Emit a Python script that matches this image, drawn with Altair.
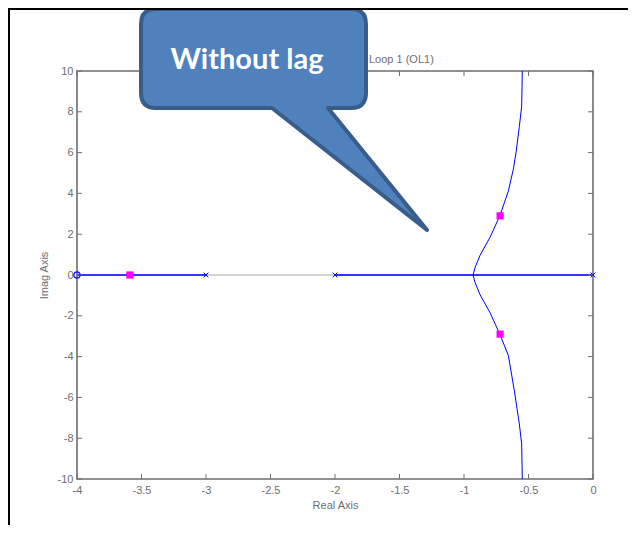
import altair as alt
import pandas as pd

# ---------------- data ----------------
upper_re = [-0.93, -0.915, -0.876, -0.798, -0.721, -0.657, -0.618, -0.597, -0.571, -0.553, -0.548]
upper_im = [0.0, 0.35, 0.96, 1.85, 2.92, 4.10, 5.17, 5.98, 7.28, 8.26, 10.0]
lower_re = [-0.93, -0.915, -0.876, -0.798, -0.721, -0.656, -0.610, -0.571, -0.553, -0.548]
lower_im = [0.0, -0.35, -0.96, -1.85, -2.92, -3.95, -5.66, -7.30, -8.28, -10.0]
seg_start = [-4.0, -2.0]
seg_end = [-3.0, 0.0]
poles = [0.0, -2.0, -3.0]
zeros = [-4.0]
cl_re = [-3.59, -0.72, -0.72]
cl_im = [0.0, 2.9, -2.9]
x_ticks = [-4, -3.5, -3, -2.5, -2, -1.5, -1, -0.5, 0]
y_ticks = [-10, -8, -6, -4, -2, 0, 2, 4, 6, 8, 10]
title_text = "Loop 1 (OL1)"
callout_text = "Without lag"

W, H = 516, 408
PL, PT, PR, PB = 69, 63, 35, 46
GRAY = "#6e6e6e"
FONT = "Liberation Sans"

# ---------------- tables ----------------
branch = pd.DataFrame(
    {"re": upper_re + lower_re,
     "im": upper_im + lower_im,
     "b": ["up"] * len(upper_re) + ["lo"] * len(lower_re),
     "o": list(range(len(upper_re))) + list(range(len(lower_re)))}
)
segs = pd.DataFrame({"re": seg_start, "re2": seg_end, "im": [0.0] * len(seg_start)})
axis_line = pd.DataFrame({"re": [x_ticks[0]], "re2": [x_ticks[-1]], "im": [0.0]})
pole_df = pd.DataFrame({"re": poles, "im": [0.0] * len(poles)})
zero_df = pd.DataFrame({"re": zeros, "im": [0.0] * len(zeros)})
cl_df = pd.DataFrame({"re": cl_re, "im": cl_im})
xt_df = pd.DataFrame({"re": x_ticks})
yt_df = pd.DataFrame({"im": y_ticks})
one = pd.DataFrame({"t": [title_text], "c": [callout_text]})

xscale = alt.Scale(domain=[-4, 0], nice=False, zero=False)
yscale = alt.Scale(domain=[-10, 10], nice=False, zero=False)
x_axis = alt.Axis(values=x_ticks, ticks=False, domain=False, grid=False,
                  labelColor=GRAY, labelFont=FONT, labelFontSize=11, labelPadding=5,
                  labelExpr="'' + datum.value", labelFlush=False,
                  title="Real Axis", titleFont=FONT, titleFontSize=11,
                  titleFontWeight="normal", titleColor=GRAY, titlePadding=4)
y_axis = alt.Axis(values=y_ticks, ticks=False, domain=False, grid=False,
                  labelColor=GRAY, labelFont=FONT, labelFontSize=11, labelPadding=4,
                  labelExpr="'' + datum.value", labelFlush=False,
                  title="Imag Axis", titleFont=FONT, titleFontSize=11,
                  titleFontWeight="normal", titleColor=GRAY, titlePadding=8)
X = alt.X("re:Q", scale=xscale, axis=x_axis)
Y = alt.Y("im:Q", scale=yscale, axis=y_axis)

base_axis = alt.Chart(axis_line).mark_rule(color="#a8a8a8", strokeWidth=1).encode(
    x=X, x2="re2:Q", y=Y)
blue_segs = alt.Chart(segs).mark_rule(color="#0000ff", strokeWidth=1.4).encode(
    x=X, x2="re2:Q", y=Y)
curves = alt.Chart(branch).mark_line(color="#0000ff", strokeWidth=1).encode(
    x=X, y=Y, detail="b:N", order="o:Q")
pole_pts = alt.Chart(pole_df).mark_point(
    shape="M-1,-1L1,1M-1,1L1,-1", size=22, filled=False, color="#0000ff",
    strokeWidth=1, opacity=1).encode(x=X, y=Y)
zero_pts = alt.Chart(zero_df).mark_point(
    shape="circle", size=40, filled=False, color="#0000ff",
    strokeWidth=1.2, opacity=1).encode(x=X, y=Y)
cl_pts = alt.Chart(cl_df).mark_point(
    shape="square", size=52, filled=True, color="#ff00ff", opacity=1).encode(x=X, y=Y)

tick_style = dict(color=GRAY, strokeWidth=1)
t_bottom = alt.Chart(xt_df).mark_rule(**tick_style).encode(
    x=X, y=alt.value(H), y2=alt.value(H - 5))
t_top = alt.Chart(xt_df).mark_rule(**tick_style).encode(
    x=X, y=alt.value(0), y2=alt.value(5))
t_left = alt.Chart(yt_df).mark_rule(**tick_style).encode(
    y=Y, x=alt.value(0), x2=alt.value(5))
t_right = alt.Chart(yt_df).mark_rule(**tick_style).encode(
    y=Y, x=alt.value(W), x2=alt.value(W - 5))

title = alt.Chart(one).mark_text(
    font=FONT, fontSize=11, color=GRAY, align="left", baseline="alphabetic").encode(
    text="t:N", x=alt.value(292), y=alt.value(-8))

# ---------------- callout shape (decoration) ----------------
CX, CY, S = 207.0, 48.5, 150.0


def P(px, py):
    return f"{(px - CX) / S:.4f},{(py - CY) / S:.4f}"


L_, R_, T_, B_, r = 64, 289, -62, 37, 15
bl, br, tipx, tipy = 195, 251, 350, 159
path = (
    f"M{P(L_ + r, T_)}L{P(R_ - r, T_)}Q{P(R_, T_)} {P(R_, T_ + r)}"
    f"L{P(R_, B_ - r)}Q{P(R_, B_)} {P(R_ - r, B_)}"
    f"L{P(br, B_)}L{P(tipx, tipy)}L{P(bl, B_)}"
    f"L{P(L_ + r, B_)}Q{P(L_, B_)} {P(L_, B_ - r)}"
    f"L{P(L_, T_ + r)}Q{P(L_, T_)} {P(L_ + r, T_)}Z"
)
callout = alt.Chart(one).mark_point(
    shape=path, size=(2 * S) ** 2, filled=True, fill="#4f81bd", stroke="#385d8a",
    strokeWidth=4, opacity=1, fillOpacity=1, strokeJoin="round").encode(
    x=alt.value(CX), y=alt.value(CY))
callout_label = alt.Chart(one).mark_text(
    font="Lato", fontSize=29, fontWeight="bold", color="white",
    align="center", baseline="alphabetic").encode(
    text="c:N", x=alt.value(170), y=alt.value(-2))

# ---------------- black frame ----------------
frame_left = alt.Chart(one).mark_rule(color="black", strokeWidth=2).encode(
    x=alt.value(-PL + 1), y=alt.value(-PT), y2=alt.value(H + PB))
frame_top = alt.Chart(one).mark_rule(color="black", strokeWidth=2).encode(
    x=alt.value(-PL), x2=alt.value(W + PR), y=alt.value(-PT + 1))

chart = alt.layer(
    base_axis, blue_segs, curves, pole_pts, zero_pts, cl_pts,
    t_bottom, t_top, t_left, t_right, title,
    callout, callout_label, frame_left, frame_top,
).properties(
    width=W, height=H,
    padding={"left": PL, "top": PT, "right": PR, "bottom": PB},
    autosize=alt.AutoSizeParams(type="none"),
    background="white",
).configure_view(stroke=GRAY, strokeWidth=1.6)

chart.save("out.html", embed_options={"renderer": "svg", "actions": False})
